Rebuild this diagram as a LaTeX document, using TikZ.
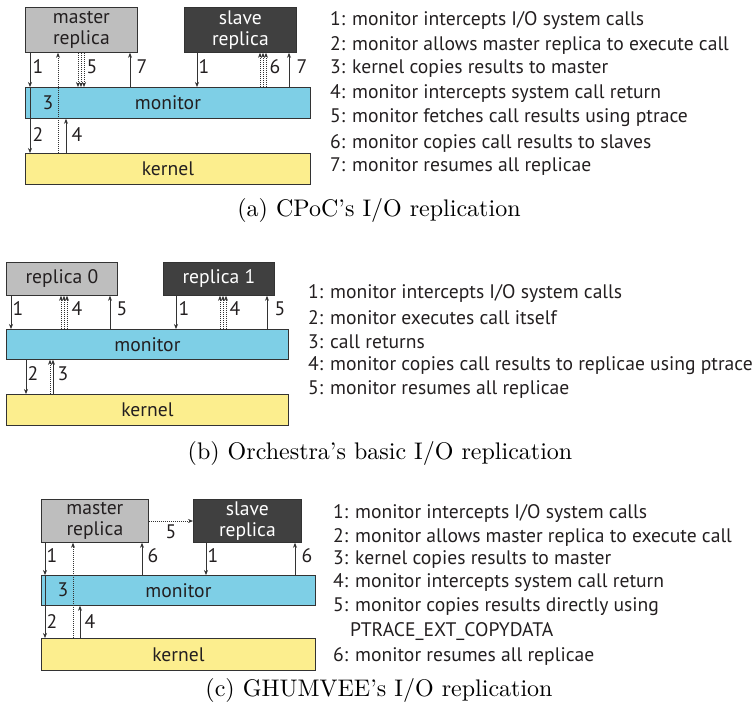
\documentclass[tikz,border=0pt]{standalone}
\usepackage{fontspec}
\newfontfamily\dfont{PT Sans}
\usetikzlibrary{arrows.meta}
\definecolor{gboxc}{HTML}{BEBEBE}
\definecolor{dboxc}{HTML}{404040}
\definecolor{monc}{HTML}{7ECFE6}
\definecolor{kerc}{HTML}{FCEE8E}
\definecolor{edgec}{HTML}{333333}
\definecolor{txtc}{HTML}{231F20}
\begin{document}
\begin{tikzpicture}[x=1pt,y=-1pt,
  dtext/.style={font=\dfont\fontsize{19.6}{21}\selectfont},
  boxbase/.style={dtext, draw=edgec, line width=0.8pt, inner sep=0pt, align=center, anchor=north west},
  gbox/.style={boxbase, fill=gboxc, text=txtc},
  dbox/.style={boxbase, fill=dboxc, text=white},
  mbox/.style={boxbase, fill=monc, text=txtc},
  kbox/.style={boxbase, fill=kerc, text=txtc},
  arr/.style={draw=edgec, line width=0.7pt, -{Stealth[length=5pt,width=4pt]}},
  plainln/.style={draw=edgec, line width=0.7pt},
  dotarr/.style={arr, dash pattern=on 0.8pt off 1.2pt},
  lab/.style={dtext, inner sep=0pt, text=txtc},
  leg/.style={dtext, inner sep=0pt, anchor=west, text=txtc},
  captext/.style={inner sep=0pt}]
\useasboundingbox (0,0) rectangle (755,704);

% ---------------- (a) ----------------
\node[gbox, minimum width=112pt, minimum height=45pt] (am) at (25,7) {master\\replica};
\node[dbox, minimum width=112pt, minimum height=45pt] (as) at (184,7) {slave\\replica};
\node[mbox, minimum width=285pt, minimum height=31pt] (amon) at (25,87) {monitor};
\node[kbox, minimum width=285pt, minimum height=31pt] (aker) at (25,153) {kernel};

\draw[arr] (am.south -| 30,0) -- (amon.north -| 30,0);
\draw[plainln] (amon.north -| 30,0) -- (amon.south -| 30,0);
\draw[arr] (amon.south -| 30,0) -- (aker.north -| 30,0);
\draw[dotarr] (aker.north -| 58,0) -- (am.south -| 58,0);
\draw[arr] (aker.north -| 66,0) -- (amon.south -| 66,0);
\foreach \x in {78,81,84} \draw[dotarr] (am.south -| \x,0) -- (amon.north -| \x,0);
\draw[arr] (amon.north -| 130,0) -- (am.south -| 130,0);
\draw[arr] (as.south -| 197,0) -- (amon.north -| 197,0);
\foreach \x in {260,263,266} \draw[dotarr] (amon.north -| \x,0) -- (as.south -| \x,0);
\draw[arr] (amon.north -| 289,0) -- (as.south -| 289,0);

\node[lab] (a1) at (38,67) {1};
\node[lab] (a2) at (38,135) {2};
\node[lab] (a3) at (48,103) {3};
\node[lab] (a4) at (77,135) {4};
\node[lab] (a5) at (92,67) {5};
\node[lab] (a7) at (142,67) {7};
\node[lab] (a1s) at (204,67) {1};
\node[lab] (a6) at (275,67) {6};
\node[lab] (a7s) at (302,67) {7};

\node[leg] (al1) at (330,21) {1: monitor intercepts I/O system calls};
\node[leg] (al2) at (330,45) {2: monitor allows master replica to execute call};
\node[leg] (al3) at (330,69) {3: kernel copies results to master};
\node[leg] (al4) at (330,94) {4: monitor intercepts system call return};
\node[leg] (al5) at (330,118) {5: monitor fetches call results using ptrace};
\node[leg] (al6) at (330,143) {6: monitor copies call results to slaves};
\node[leg] (al7) at (330,167) {7: monitor resumes all replicae};

\node[captext] (acap) at (379,210) {\scalebox{2.4}{\fontsize{10}{12}\selectfont (a) CPoC's I/O replication}};

% ---------------- (b) ----------------
\node[gbox, minimum width=111pt, minimum height=33pt] (b0) at (6,262) {replica 0};
\node[dbox, minimum width=111pt, minimum height=33pt] (b1) at (163,262) {replica 1};
\node[mbox, minimum width=282pt, minimum height=30pt] (bmon) at (6,329) {monitor};
\node[kbox, minimum width=282pt, minimum height=31pt] (bker) at (6,394) {kernel};

\draw[arr] (b0.south -| 11,0) -- (bmon.north -| 11,0);
\foreach \x in {61,64,67} \draw[dotarr] (bmon.north -| \x,0) -- (b0.south -| \x,0);
\draw[arr] (bmon.north -| 110,0) -- (b0.south -| 110,0);
\draw[arr] (b1.south -| 176,0) -- (bmon.north -| 176,0);
\foreach \x in {220,223,226} \draw[dotarr] (bmon.north -| \x,0) -- (b1.south -| \x,0);
\draw[arr] (bmon.north -| 267,0) -- (b1.south -| 267,0);
\draw[arr] (bmon.south -| 26,0) -- (bker.north -| 26,0);
\draw[dotarr] (bker.north -| 50,0) -- (bmon.south -| 50,0);
\draw[arr] (bker.north -| 53,0) -- (bmon.south -| 53,0);

\node[lab] (b1l) at (18,309) {1};
\node[lab] (b4l) at (77,309) {4};
\node[lab] (b5l) at (122,309) {5};
\node[lab] (b1r) at (184,309) {1};
\node[lab] (b4r) at (235,309) {4};
\node[lab] (b5r) at (280,309) {5};
\node[lab] (b2l) at (33,374) {2};
\node[lab] (b3l) at (63,374) {3};

\node[leg] (bl1) at (308,294) {1: monitor intercepts I/O system calls};
\node[leg] (bl2) at (308,318) {2: monitor executes call itself};
\node[leg] (bl3) at (308,342) {3: call returns};
\node[leg] (bl4) at (308,366) {4: monitor copies call results to replicae using ptrace};
\node[leg] (bl5) at (308,390) {5: monitor resumes all replicae};

\node[captext] (bcap) at (380,453) {\scalebox{2.4}{\fontsize{10}{12}\selectfont (b) Orchestra's basic I/O replication}};

% ---------------- (c) ----------------
\node[gbox, minimum width=107pt, minimum height=43pt] (cm) at (41,499) {master\\replica};
\node[dbox, minimum width=108pt, minimum height=43pt] (cs) at (193,499) {slave\\replica};
\node[mbox, minimum width=274pt, minimum height=30pt] (cmon) at (41,575) {monitor};
\node[kbox, minimum width=274pt, minimum height=32pt] (cker) at (41,638) {kernel};

\draw[arr] (cm.south -| 45,0) -- (cmon.north -| 45,0);
\draw[plainln] (cmon.north -| 45,0) -- (cmon.south -| 45,0);
\draw[arr] (cmon.south -| 45,0) -- (cker.north -| 45,0);
\draw[dotarr] (cker.north -| 73,0) -- (cm.south -| 73,0);
\draw[arr] (cker.north -| 80,0) -- (cmon.south -| 80,0);
\draw[arr] (cmon.north -| 142,0) -- (cm.south -| 142,0);
\draw[dotarr] (cm.east |- 0,521) -- (cs.west |- 0,521);
\draw[arr] (cs.south -| 206,0) -- (cmon.north -| 206,0);
\draw[arr] (cmon.north -| 295,0) -- (cs.south -| 295,0);

\node[lab] (c1l) at (52,556) {1};
\node[lab] (c2l) at (52,622) {2};
\node[lab] (c3l) at (63,590) {3};
\node[lab] (c4l) at (90,622) {4};
\node[lab] (c6l) at (153,556) {6};
\node[lab] (c5l) at (171,532) {5};
\node[lab] (c1r) at (213,556) {1};
\node[lab] (c6r) at (307,556) {6};

\node[leg] (cl1) at (333,514) {1: monitor intercepts I/O system calls};
\node[leg] (cl2) at (333,537) {2: monitor allows master replica to execute call};
\node[leg] (cl3) at (333,560) {3: kernel copies results to master};
\node[leg] (cl4) at (333,583) {4: monitor intercepts system call return};
\node[leg] (cl5) at (333,607) {5: monitor copies results directly using};
\node[leg] (cl5b) at (350,632) {PTRACE\_EXT\_COPYDATA};
\node[leg] (cl6) at (333,656) {6: monitor resumes all replicae};

\node[captext] (ccap) at (379,690) {\scalebox{2.4}{\fontsize{10}{12}\selectfont (c) GHUMVEE's I/O replication}};
\end{tikzpicture}
\end{document}
